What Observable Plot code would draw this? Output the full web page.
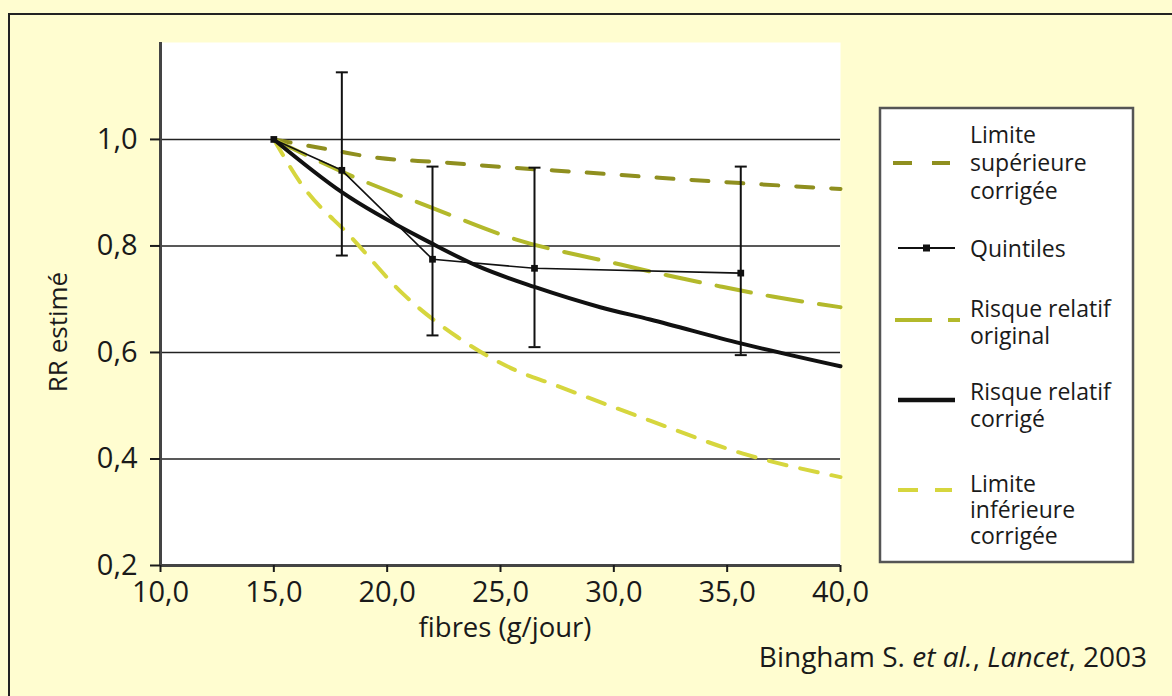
<!DOCTYPE html>
<html><head><meta charset="utf-8">
<script src="https://cdn.jsdelivr.net/npm/d3@7"></script>
<script src="https://cdn.jsdelivr.net/npm/@observablehq/plot@0.6"></script>
<style>
html,body{margin:0;padding:0;background:#fffdd0;}
#wrap{position:relative;width:1172px;height:696px;overflow:hidden;background:#fffdd0;font-family:'Open Sans',sans-serif;}
#wrap svg{position:absolute;left:0;top:0;}
</style></head><body><div id="wrap"></div>
<script>
// ---- data ----
const xTicks = [10, 15, 20, 25, 30, 35, 40];
const yTicks = [0.2, 0.4, 0.6, 0.8, 1.0];
const gridValues = [0.4, 0.6, 0.8, 1.0];

const quintileFibres = [15, 18, 22, 26.5, 35.6];
const quintileRR     = [1.0, 0.942, 0.775, 0.758, 0.749];
const quintileLow    = [null, 0.782, 0.632, 0.610, 0.595];
const quintileHigh   = [null, 1.126, 0.949, 0.947, 0.949];

const upperFibres = [15, 17.7, 19.3, 22.4, 25.5, 28.7, 32, 35.6, 40];
const upperRR     = [1.0, 0.979, 0.967, 0.957, 0.947, 0.938, 0.928, 0.918, 0.907];

const originalFibres = [15, 18.4, 21.9, 25.7, 30, 32.35, 34.7, 37, 40];
const originalRR     = [1.0, 0.932, 0.873, 0.812, 0.768, 0.745, 0.724, 0.705, 0.685];

const correctedFibres = [15, 18, 22, 24, 26.5, 29.4, 31.6, 35.6, 40];
const correctedRR     = [1.0, 0.901, 0.804, 0.762, 0.723, 0.685, 0.662, 0.617, 0.574];

const lowerFibres = [15, 16.2, 18.4, 20.7, 23.1, 25.7, 27.2, 31.6, 35.7, 40];
const lowerRR     = [1.0, 0.917, 0.817, 0.71, 0.629, 0.566, 0.542, 0.472, 0.41, 0.366];

const legendLabels = [
  ["Limite", "supérieure", "corrigée"],
  ["Quintiles"],
  ["Risque relatif", "original"],
  ["Risque relatif", "corrigé"],
  ["Limite", "inférieure", "corrigée"]
];
const yLabel = "RR estimé";
const xLabel = "fibres (g/jour)";

// ---- styles ----
const cUpper = "#8f8f1f", cOrig = "#b3b92b", cLower = "#d6d63e", cBlack = "#111";

const toRows = (xs, ys) => xs.map((x, i) => ({x, y: ys[i]}));
const quintiles = quintileFibres.map((x, i) => ({x, y: quintileRR[i], lo: quintileLow[i], hi: quintileHigh[i]}));
const bars = quintiles.filter(d => d.lo != null);
const fmt = d => d.toFixed(1).replace(".", ",");
const capSymbol = {draw(ctx, size) { const w = Math.sqrt(size / Math.PI); ctx.moveTo(-w, 0); ctx.lineTo(w, 0); }};

const chart = Plot.plot({
  width: 1172, height: 696,
  marginLeft: 160, marginRight: 332, marginTop: 42, marginBottom: 131,
  style: {background: "transparent", fontFamily: "'Open Sans', sans-serif", fontSize: "29px", color: "#1a1a1a", overflow: "visible"},
  x: {domain: [10, 40]},
  y: {domain: [0.2, 1.182]},
  marks: [
    Plot.frame({fill: "white", stroke: "none"}),
    Plot.gridY(gridValues, {stroke: "#222", strokeOpacity: 1, strokeWidth: 1.6}),
    Plot.line(toRows(upperFibres, upperRR), {x: "x", y: "y", stroke: cUpper, strokeWidth: 4, strokeDasharray: "17,18", curve: "monotone-x"}),
    Plot.line(toRows(originalFibres, originalRR), {x: "x", y: "y", stroke: cOrig, strokeWidth: 4, strokeDasharray: "35,17", curve: "monotone-x"}),
    Plot.line(toRows(lowerFibres, lowerRR), {x: "x", y: "y", stroke: cLower, strokeWidth: 4, strokeDasharray: "18,14", curve: "monotone-x"}),
    Plot.ruleX(bars, {x: "x", y1: "lo", y2: "hi", stroke: cBlack, strokeWidth: 2}),
    Plot.dot(bars, {x: "x", y: "lo", symbol: capSymbol, r: 6, stroke: cBlack, strokeWidth: 2}),
    Plot.dot(bars, {x: "x", y: "hi", symbol: capSymbol, r: 6, stroke: cBlack, strokeWidth: 2}),
    Plot.line(quintiles, {x: "x", y: "y", stroke: cBlack, strokeWidth: 1.6}),
    Plot.dot(quintiles, {x: "x", y: "y", symbol: "square", r: 3.8, fill: cBlack}),
    Plot.line(toRows(correctedFibres, correctedRR), {x: "x", y: "y", stroke: cBlack, strokeWidth: 4, curve: "monotone-x"}),
    Plot.ruleX([10], {stroke: "#444", strokeWidth: 3}),
    Plot.ruleY([0.2], {stroke: "#444", strokeWidth: 3}),
    Plot.axisY(yTicks, {tickFormat: fmt, tickSize: 10, tickPadding: 13, label: null, strokeWidth: 2, fontSize: 29}),
    Plot.axisX(xTicks, {tickFormat: fmt, tickSize: 7, tickPadding: 9, label: null, strokeWidth: 2, fontSize: 29})
  ]
});
document.getElementById("wrap").appendChild(chart);

// ---- overlay: frame, labels, legend, caption ----
const svg = d3.select("#wrap").append("svg")
  .attr("width", 1172).attr("height", 696)
  .style("pointer-events", "none")
  .style("font-family", "'Open Sans', sans-serif")
  .attr("fill", "#1a1a1a");

svg.append("path").attr("d", "M9,696V14H1172").attr("fill", "none").attr("stroke", "#222").attr("stroke-width", 2);

svg.append("text").attr("transform", "translate(67,332) rotate(-90)")
  .attr("text-anchor", "middle").style("font-size", "26px").text(yLabel);
svg.append("text").attr("x", 505).attr("y", 637)
  .attr("text-anchor", "middle").style("font-size", "27.5px").text(xLabel);

const cap = svg.append("text").attr("x", 1147).attr("y", 667).attr("text-anchor", "end").style("font-size", "28px");
cap.append("tspan").text("Bingham S. ");
cap.append("tspan").style("font-style", "italic").text("et al.");
cap.append("tspan").text(", ");
cap.append("tspan").style("font-style", "italic").text("Lancet");
cap.append("tspan").text(", 2003");

// legend
svg.append("rect").attr("x", 880).attr("y", 108).attr("width", 253).attr("height", 454)
  .attr("fill", "white").attr("stroke", "#555").attr("stroke-width", 2.5);

const legendBaselines = [[143, 171, 199], [257], [317, 344], [400, 427], [492, 518, 544]];
const legendSwatches = [
  {y: 163, x1: 893, x2: 950, stroke: cUpper, w: 4, dash: "19,20"},
  {y: 248, x1: 898, x2: 955, stroke: cBlack, w: 1.8, dash: null, marker: true},
  {y: 320, x1: 895, x2: 960, stroke: cOrig, w: 4, dash: "37,16"},
  {y: 400, x1: 898, x2: 955, stroke: cBlack, w: 4.5, dash: null},
  {y: 490, x1: 898, x2: 952, stroke: cLower, w: 4, dash: "20,17"}
];
legendLabels.forEach((lines, i) => {
  const s = legendSwatches[i];
  const l = svg.append("line").attr("x1", s.x1).attr("x2", s.x2).attr("y1", s.y).attr("y2", s.y)
    .attr("stroke", s.stroke).attr("stroke-width", s.w);
  if (s.dash) l.attr("stroke-dasharray", s.dash);
  if (s.marker) svg.append("rect").attr("x", (s.x1 + s.x2) / 2 - 3.5).attr("y", s.y - 3.5)
    .attr("width", 7).attr("height", 7).attr("fill", cBlack);
  const t = svg.append("text").attr("x", 970).style("font-size", "23px");
  lines.forEach((line, j) => {
    t.append("tspan").attr("x", 970).attr("y", legendBaselines[i][j]).text(line);
  });
});
</script>
</body></html>
